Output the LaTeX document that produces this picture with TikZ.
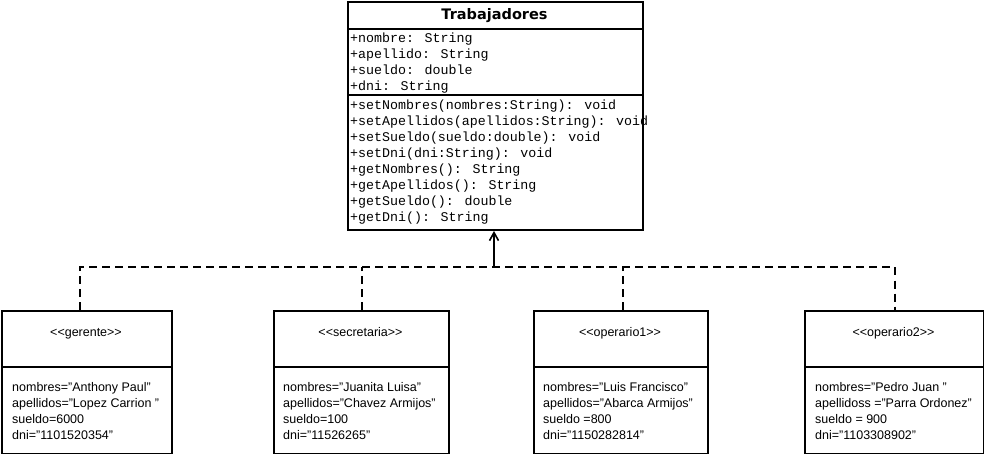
\documentclass[tikz,border=0pt]{standalone}
\usepackage{fontspec}
\setmainfont{Liberation Sans}
\newfontfamily\umlmono{Liberation Mono}
\newfontfamily\umltitle{DejaVu Sans}
\usetikzlibrary{arrows.meta}

\begin{document}
\begin{tikzpicture}[x=1pt,y=-1pt,
  umlbox/.style={draw, line width=2pt, inner sep=0pt, anchor=north west},
  sepline/.style={line width=2pt},
  member/.style={anchor=base west, inner sep=0pt, font=\umlmono\fontsize{13.3}{16}\selectfont},
  objtext/.style={anchor=base west, inner sep=0pt, font=\fontsize{12.5}{16}\selectfont},
  stereo/.style={anchor=base, inner sep=0pt, font=\fontsize{12.5}{16}\selectfont},
  dep/.style={line width=2pt, dash pattern=on 8pt off 5pt},
  gen/.style={line width=2pt, -{Straight Barb[length=8pt,width=9pt,line width=1.6pt]}}
]
\useasboundingbox (0,0) rectangle (984,454);
\fill[white] (0,0) rectangle (984,454);

% Class Trabajadores
\node[umlbox, minimum width=295pt, minimum height=228pt] (trab) at (347,1) {};
\draw[sepline] (347,29) -- (642,29);
\draw[sepline] (347,95) -- (642,95);
\node[anchor=base, inner sep=0pt, font=\umltitle\bfseries\fontsize{14.5}{16}\selectfont] (ttl) at (494.5,19.5) {Trabajadores};
\node[member] (a1) at (350,42.5) {+nombre: String};
\node[member] (a2) at (350,58.5) {+apellido: String};
\node[member] (a3) at (350,74.5) {+sueldo: double};
\node[member] (a4) at (350,90.5) {+dni: String};
\node[member] (m1) at (350,109.3) {+setNombres(nombres:String): void};
\node[member] (m2) at (350,125.3) {+setApellidos(apellidos:String): void};
\node[member] (m3) at (350,141.3) {+setSueldo(sueldo:double): void};
\node[member] (m4) at (350,157.3) {+setDni(dni:String): void};
\node[member] (m5) at (350,173.3) {+getNombres(): String};
\node[member] (m6) at (350,189.3) {+getApellidos(): String};
\node[member] (m7) at (350,205.3) {+getSueldo(): double};
\node[member] (m8) at (350,221.3) {+getDni(): String};

% Object boxes
\node[umlbox, minimum width=170pt, minimum height=143pt] (ger) at (1,310) {};
\node[umlbox, minimum width=175pt, minimum height=143pt] (sec) at (273,310) {};
\node[umlbox, minimum width=174pt, minimum height=143pt] (op1) at (533,310) {};
\node[umlbox, minimum width=179pt, minimum height=143pt] (op2) at (804,310) {};
\draw[sepline] (1,367) -- (171,367);
\draw[sepline] (273,367) -- (448,367);
\draw[sepline] (533,367) -- (707,367);
\draw[sepline] (804,367) -- (983,367);

\node[stereo] (gs) at (86,336) {<{}<gerente>{}>};
\node[stereo] (ss) at (360.5,336) {<{}<secretaria>{}>};
\node[stereo] (o1s) at (620,336) {<{}<operario1>{}>};
\node[stereo] (o2s) at (893.5,336) {<{}<operario2>{}>};

\node[objtext] (g1) at (12,391) {nombres="Anthony Paul"};
\node[objtext] (g2) at (12,407) {apellidos="Lopez Carrion "};
\node[objtext] (g3) at (12,423) {sueldo=6000};
\node[objtext] (g4) at (12,439) {dni="1101520354"};

\node[objtext] (s1) at (283,391) {nombres="Juanita Luisa"};
\node[objtext] (s2) at (283,407) {apellidos="Chavez Armijos"};
\node[objtext] (s3) at (283,423) {sueldo=100};
\node[objtext] (s4) at (283,439) {dni="11526265"};

\node[objtext] (p1) at (543,391) {nombres="Luis Francisco"};
\node[objtext] (p2) at (543,407) {apellidos="Abarca Armijos"};
\node[objtext] (p3) at (543,423) {sueldo =800};
\node[objtext] (p4) at (543,439) {dni="1150282814"};

\node[objtext] (q1) at (815,391) {nombres="Pedro Juan "};
\node[objtext] (q2) at (815,407) {apellidoss ="Parra Ordonez"};
\node[objtext] (q3) at (815,423) {sueldo = 900};
\node[objtext] (q4) at (815,439) {dni="1103308902"};

% Connectors: one shared dashed bus, short dashed drops, solid arrow to the class
\coordinate (hub) at (494,267);
\coordinate (gtop) at ([xshift=-7pt]ger.north);
\coordinate (o1top) at ([xshift=2pt]op1.north);
\draw[dep] (gtop) -- (gtop |- hub) -- (op2.north |- hub) -- (op2.north);
\draw[dep] (sec.north) -- (sec.north |- hub);
\draw[dep] (o1top) -- (o1top |- hub);
\draw[gen] (hub) -- (hub |- trab.south);
\end{tikzpicture}
\end{document}
